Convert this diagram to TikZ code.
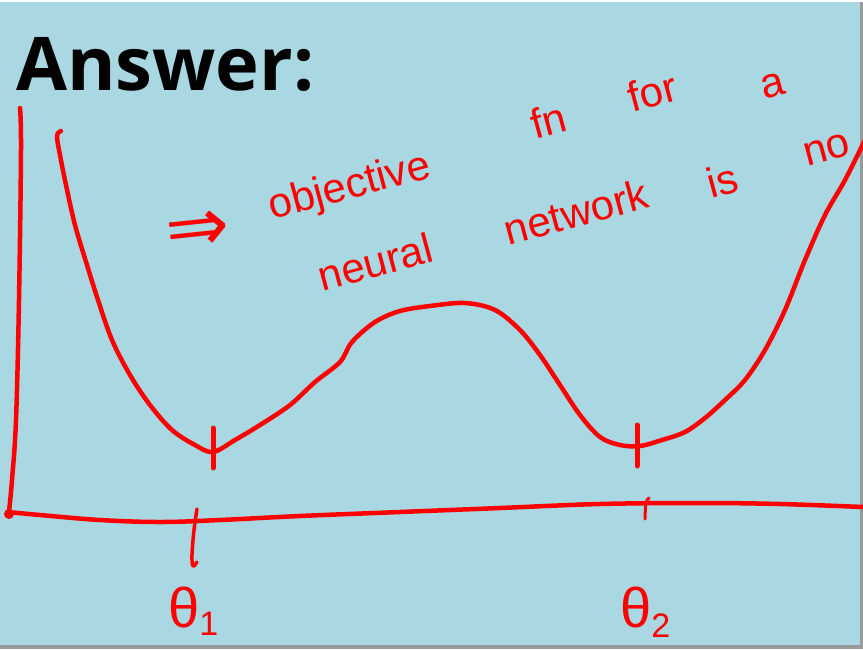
\documentclass[tikz,border=0pt]{standalone}
\usepackage{fontspec}
\newfontfamily\titlefont{Open Sans}
\newfontfamily\hand{Liberation Sans}
\newfontfamily\symb{DejaVu Sans}
\definecolor{bgblue}{HTML}{A9D7E2}
\definecolor{ink}{HTML}{FF0000}
\definecolor{edgegray}{HTML}{9A9A9A}
\begin{document}
\begin{tikzpicture}[x=1pt,y=-1pt,
  pen/.style={draw=ink,line width=4.5pt,line cap=round,line join=round},
  tickmark/.style={draw=ink,line width=5pt,line cap=round},
  word/.style={text=ink,font=\hand\fontsize{42}{42}\selectfont,inner sep=0pt,rotate=15},
  lbl/.style={text=ink,inner sep=0pt,font=\hand\fontsize{56}{56}\selectfont}]
\useasboundingbox (0,0) rectangle (863,649);
\fill[bgblue] (0,0) rectangle (863,649);
\fill[edgegray] (860,0) rectangle (863,649);
\fill[edgegray] (0,645) rectangle (863,649);
\fill[white] (0,0) rectangle (863,2);

% title
\node[anchor=base west,inner sep=0pt,font=\titlefont\bfseries\fontsize{74}{74}\selectfont] (title) at (16,90) {Answer:};

% axes
\draw[pen] plot[smooth,tension=0.6] coordinates {(20,108) (21,150) (19,300) (16,420) (12,480) (9,512)};
\fill[ink] (9,514) circle (5);
\draw[pen] plot[smooth,tension=0.6] coordinates {(8,512) (40,515) (100,520) (160,522) (220,520) (300,516) (400,512) (500,508) (600,504) (700,503) (780,504) (863,507)};

% ticks on axis
\draw[pen,line width=3.5pt] plot[smooth,tension=0.6] coordinates {(197,509) (194,530) (192,555) (193,566) (197,562)};
\draw[pen,line width=3pt] plot[smooth,tension=0.6] coordinates {(649,498) (646,503) (645,519)};

% objective curve
\draw[pen] plot[smooth,tension=0.55] coordinates {(61,131) (57,136) (60,155) (66,185) (75,225) (87,265) (98,300) (112,340) (130,375) (150,405) (172,430) (195,445) (213,452) (235,440) (260,425) (290,405) (315,382) (340,362) (352,342) (375,322) (400,311) (430,306) (465,303) (495,310) (520,330) (540,355) (560,385) (580,415) (600,437) (620,445) (640,446) (662,440) (685,432) (705,418) (725,400) (745,380) (765,350) (785,310) (805,260) (825,215) (845,180) (866,138)};

% minimum marks
\draw[tickmark] (213,428) -- (213,468);
\draw[tickmark] (637,425) -- (637,466);

% handwritten words
\node[text=ink,inner sep=0pt,rotate=6,font=\symb\fontsize{76}{76}\selectfont] (arrow) at (198,232) {⇒};
\node[word] (w1) at (350,188) {objective};
\node[word] (w2) at (548,120) {fn};
\node[word] (w3) at (652,92) {for};
\node[word] (w4) at (773,86) {a};
\node[word] (w5) at (375,262) {neural};
\node[word] (w6) at (576,212) {network};
\node[word] (w7) at (722,180) {is};
\begin{scope}
\clip (0,0) rectangle (860,649);
\node[word,anchor=west] (w8) at (804,156) {no};
\end{scope}

% labels
\node[lbl,anchor=base west] (t1) at (168,627) {θ\raisebox{-8pt}{\fontsize{34}{34}\selectfont 1}};
\node[lbl,anchor=base west] (t2) at (620,627) {θ\raisebox{-10pt}{\fontsize{34}{34}\selectfont 2}};
\end{tikzpicture}
\end{document}
